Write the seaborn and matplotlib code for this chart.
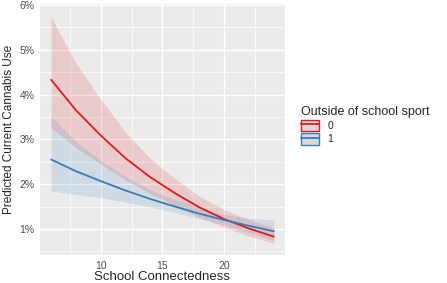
import numpy as np
import pandas as pd
import seaborn as sns
import matplotlib.pyplot as plt
from matplotlib.patches import Patch
from matplotlib.lines import Line2D
from matplotlib.ticker import FuncFormatter, MultipleLocator

# school connectedness score
x_vals = [6, 8, 10, 12, 14, 16, 18, 20, 22, 24]

# group 0 (no outside of school sport), predicted % and ribbon
red_fit = [4.33, 3.65, 3.09, 2.58, 2.16, 1.80, 1.48, 1.22, 1.01, 0.83]
red_hi = [5.73, 4.70, 3.90, 3.16, 2.58, 2.12, 1.73, 1.43, 1.21, 1.02]
red_lo = [3.25, 2.82, 2.45, 2.10, 1.79, 1.52, 1.26, 1.04, 0.84, 0.68]

# group 1 (outside of school sport)
blue_fit = [2.55, 2.29, 2.07, 1.86, 1.67, 1.50, 1.34, 1.20, 1.07, 0.95]
blue_hi = [3.50, 2.95, 2.53, 2.17, 1.88, 1.66, 1.48, 1.32, 1.24, 1.20]
blue_lo = [1.85, 1.77, 1.70, 1.60, 1.49, 1.37, 1.23, 1.09, 0.92, 0.75]

groups = ['0', '1']
colors = {'0': '#E41A1C', '1': '#377EB8'}

df = pd.DataFrame({
    'conn': x_vals * 2,
    'pred': red_fit + blue_fit,
    'lo': red_lo + blue_lo,
    'hi': red_hi + blue_hi,
    'sport': ['0'] * len(x_vals) + ['1'] * len(x_vals),
})

sns.set_style('darkgrid', {'axes.facecolor': '#EBEBEB', 'grid.color': 'white'})
plt.rcParams['font.family'] = ['Liberation Sans', 'DejaVu Sans']

fig = plt.figure(figsize=(4.47, 2.83), dpi=100)
ax = fig.add_axes([0.0895, 0.099, 0.548, 0.887])

for g in groups:
    d = df[df['sport'] == g]
    ax.fill_between(d['conn'], d['lo'], d['hi'], color=colors[g], alpha=0.15, lw=0)

sns.lineplot(data=df, x='conn', y='pred', hue='sport', palette=colors,
             linewidth=1.3, legend=False, ax=ax)

ax.set_xlim(5.1, 24.9)
ax.set_ylim(0.42, 6.02)
ax.xaxis.set_major_locator(MultipleLocator(5))
ax.xaxis.set_minor_locator(MultipleLocator(2.5))
ax.yaxis.set_major_locator(MultipleLocator(1))
ax.yaxis.set_minor_locator(MultipleLocator(0.5))
ax.yaxis.set_major_formatter(FuncFormatter(lambda v, p: f'{v:.0f}%'))
ax.grid(which='major', color='white', linewidth=1.0)
ax.grid(which='minor', color='white', linewidth=0.5)
ax.tick_params(which='major', length=2.5, width=0.8, color='#333333',
               labelsize=7.5, labelcolor='#4D4D4D', pad=1.5)
ax.tick_params(which='minor', length=0)
for s in ax.spines.values():
    s.set_visible(False)

ax.set_xlabel('School Connectedness', fontsize=9.5, labelpad=0.5)
ax.set_ylabel('Predicted Current Cannabis Use', fontsize=8.5, labelpad=3)

handles = []
for g in groups:
    box = Patch(facecolor='#D9D9D9', edgecolor=colors[g], linewidth=1.0)
    line = Line2D([], [], color=colors[g], linewidth=1.3)
    handles.append((box, line))
leg = fig.legend(handles, groups, title='Outside of school sport',
                 loc='upper left', bbox_to_anchor=(0.665, 0.64),
                 frameon=False, fontsize=7.5, title_fontsize=9,
                 handlelength=1.7, handleheight=1.35, handletextpad=0.8,
                 labelspacing=0.15, borderaxespad=0)
leg._legend_box.align = 'left'

fig.savefig('out.png', dpi=100)
